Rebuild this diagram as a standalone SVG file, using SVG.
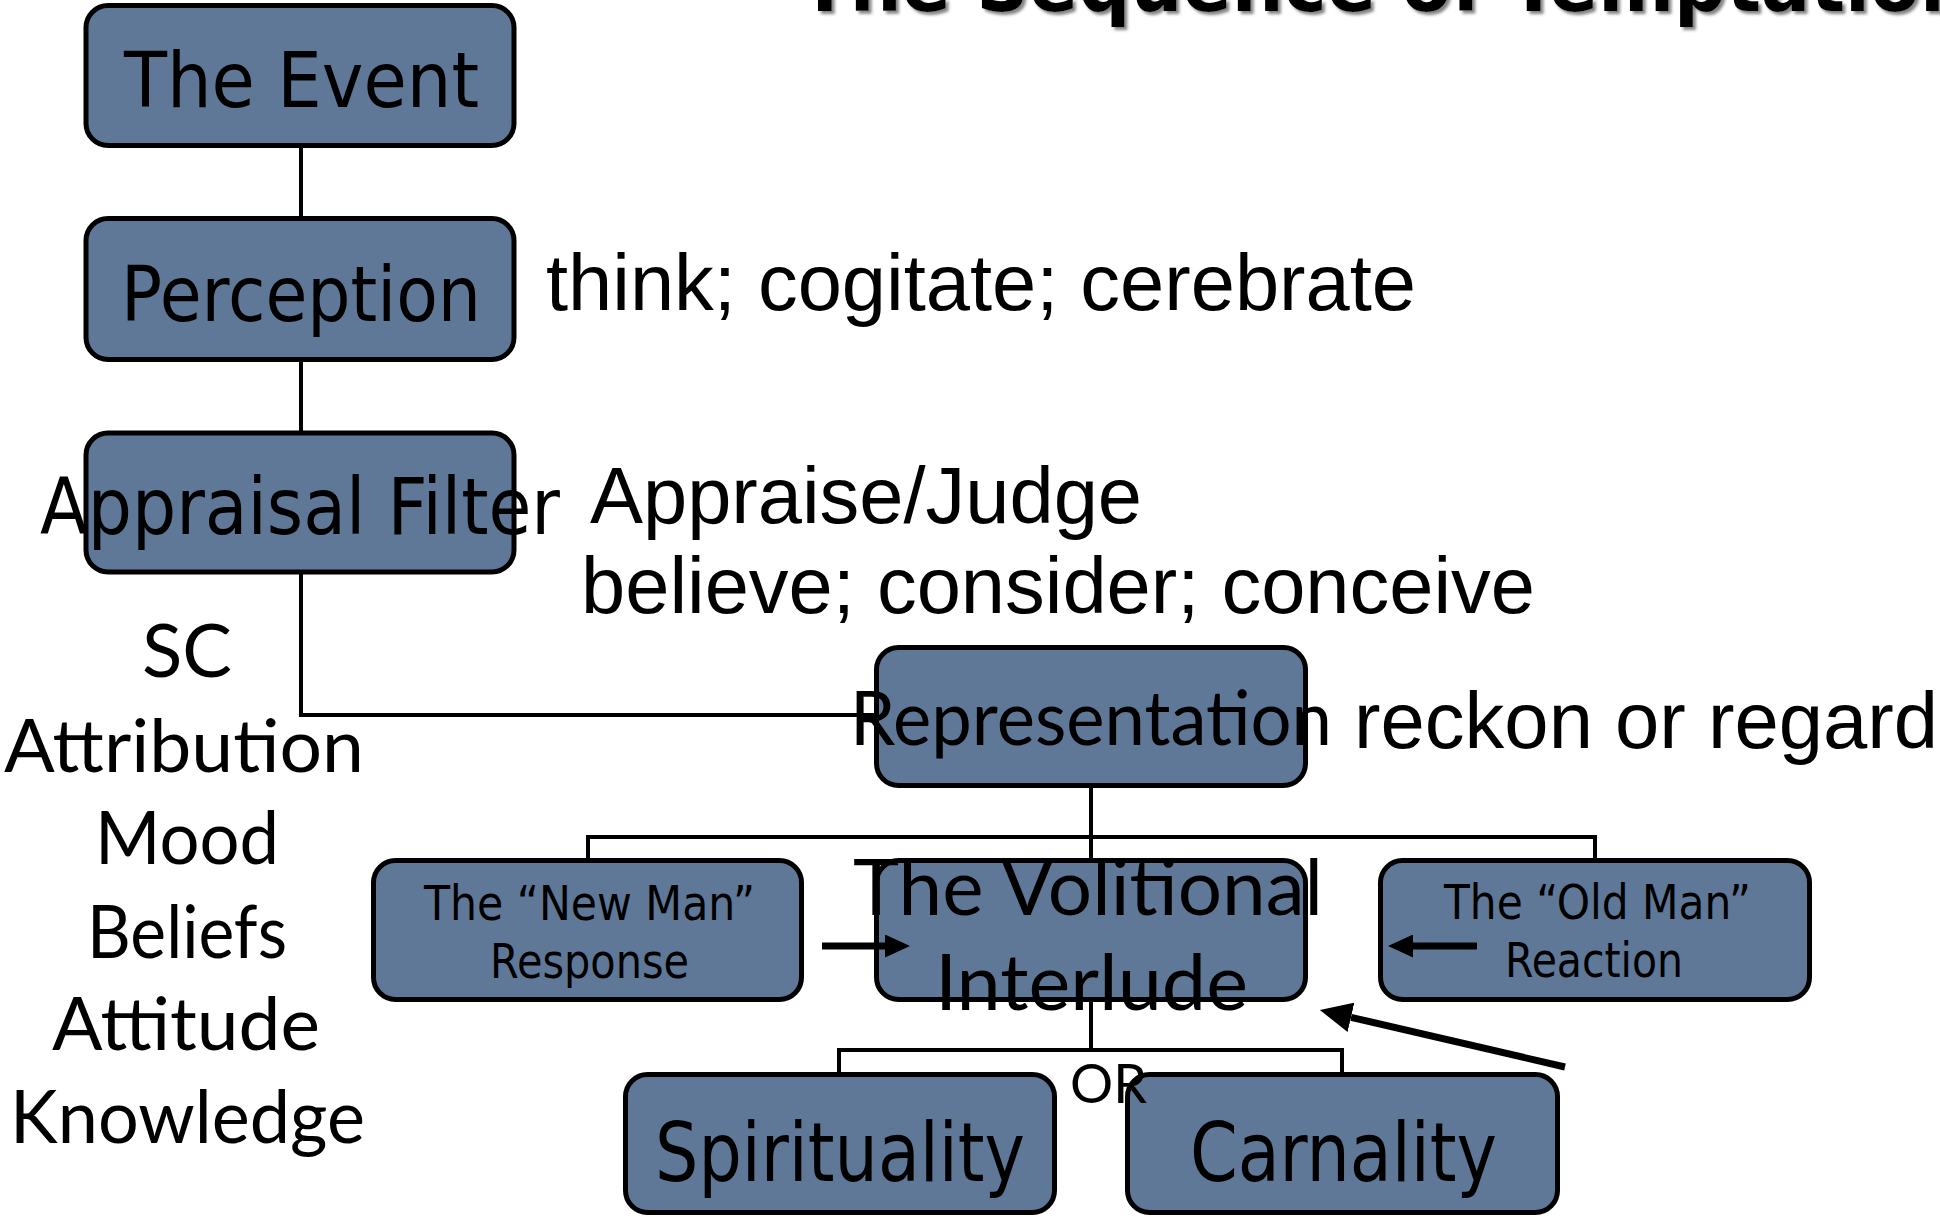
<svg xmlns="http://www.w3.org/2000/svg" width="1940" height="1217" viewBox="0 0 1940 1217">
<defs>
<style>
.box{fill:#5f7897;stroke:#000;stroke-width:5}
.tah{font-family:"DejaVu Sans","Liberation Sans",sans-serif;fill:#000}
.gill{font-family:Lato,"Open Sans","DejaVu Sans",sans-serif;fill:#000}
.ari{font-family:"Liberation Sans",Arial,sans-serif;font-size:80px;fill:#000}
.conn{fill:none;stroke:#000;stroke-width:4}
.arr{fill:none;stroke:#000;stroke-width:7}
</style>
<filter id="shadow" x="-5%" y="-50%" width="110%" height="200%">
<feDropShadow dx="3" dy="3" stdDeviation="1.5" flood-color="#777" flood-opacity="0.9"/>
</filter>
<marker id="head" viewBox="0 0 25 23" markerUnits="userSpaceOnUse" markerWidth="25" markerHeight="23" refX="0" refY="11.5" orient="auto">
<path d="M0,0 L25,11.5 L0,23 z" fill="#000"/>
</marker>
<marker id="headBig" viewBox="0 0 32 30" markerUnits="userSpaceOnUse" markerWidth="32" markerHeight="30" refX="0" refY="15" orient="auto">
<path d="M0,0 L32,15 L0,30 z" fill="#000"/>
</marker>
</defs>
<rect width="1940" height="1217" fill="#fff"/>

<g id="title">
<text x="800" y="11" font-family="'DejaVu Sans','Liberation Sans',sans-serif" font-weight="bold" font-size="78" textLength="1172" lengthAdjust="spacingAndGlyphs" filter="url(#shadow)">The Sequence of Temptation</text>
</g>

<g id="event">
<rect class="box" x="86" y="5.5" width="428" height="140" rx="22"/>
<text class="tah" x="124" y="107" font-size="76" textLength="355" lengthAdjust="spacingAndGlyphs">The Event</text>
</g>
<g id="perception">
<rect class="box" x="86" y="218.5" width="428" height="141" rx="22"/>
<text class="tah" x="121" y="321" font-size="77" textLength="360" lengthAdjust="spacingAndGlyphs">Perception</text>
</g>
<g id="appraisal">
<rect class="box" x="86" y="433" width="428" height="139" rx="22"/>
<text class="tah" x="40" y="534" font-size="78" textLength="520" lengthAdjust="spacingAndGlyphs">Appraisal Filter</text>
</g>
<g id="representation">
<rect class="box" x="876.5" y="647.5" width="429" height="138" rx="22"/>
<text class="gill" x="850" y="745" font-size="76" textLength="482" lengthAdjust="spacingAndGlyphs">Representation</text>
</g>
<g id="newman">
<rect class="box" x="373.5" y="860.5" width="428" height="139" rx="22"/>
<text class="tah" x="424" y="920" font-size="48" textLength="331" lengthAdjust="spacingAndGlyphs">The “New Man”</text>
<text class="tah" x="490" y="978" font-size="48" textLength="199" lengthAdjust="spacingAndGlyphs">Response</text>
</g>
<g id="volitional">
<rect class="box" x="876.5" y="860.5" width="429" height="139" rx="22"/>
<text class="gill" x="853" y="915" font-size="78" textLength="470" lengthAdjust="spacingAndGlyphs">The Volitional</text>
<text class="gill" x="935" y="1010" font-size="78" textLength="313" lengthAdjust="spacingAndGlyphs">Interlude</text>
</g>
<g id="oldman">
<rect class="box" x="1380.5" y="860.5" width="429" height="139" rx="22"/>
<text class="tah" x="1444" y="919" font-size="48" textLength="307" lengthAdjust="spacingAndGlyphs">The “Old Man”</text>
<text class="tah" x="1505" y="977" font-size="48" textLength="178" lengthAdjust="spacingAndGlyphs">Reaction</text>
</g>
<g id="spirituality">
<rect class="box" x="625.5" y="1074.5" width="429" height="138" rx="22"/>
<text class="tah" x="655" y="1181" font-size="82" textLength="370" lengthAdjust="spacingAndGlyphs">Spirituality</text>
</g>
<g id="carnality">
<rect class="box" x="1127.5" y="1074.5" width="430" height="138" rx="22"/>
<text class="tah" x="1190" y="1181" font-size="82" textLength="307" lengthAdjust="spacingAndGlyphs">Carnality</text>
</g>

<g id="connectors">
<path class="conn" d="M301,148 V216"/>
<path class="conn" d="M301,362 V431"/>
<path class="conn" d="M301,574 V715 H874"/>
<path class="conn" d="M1091,788 V858"/>
<path class="conn" d="M588,858 V837 H1595 V858"/>
<path class="conn" d="M1091,1002 V1050"/>
<path class="conn" d="M839,1072 V1050 H1342 V1072"/>
<path class="arr" d="M822,946 H885" marker-end="url(#head)"/>
<path class="arr" d="M1477,946 H1413" marker-end="url(#head)"/>
<path class="arr" d="M1565,1067 L1351,1017.3" marker-end="url(#headBig)"/>
</g>

<g id="labels">
<text class="gill" x="1070" y="1103" font-size="54" textLength="77" lengthAdjust="spacingAndGlyphs">OR</text>
<text class="ari" x="546" y="310" textLength="870" lengthAdjust="spacingAndGlyphs">think; cogitate; cerebrate</text>
<text class="ari" x="590" y="523" textLength="552" lengthAdjust="spacingAndGlyphs">Appraise/Judge</text>
<text class="ari" x="581" y="613" textLength="954" lengthAdjust="spacingAndGlyphs">believe; consider; conceive</text>
<text class="ari" x="1354" y="748" textLength="584" lengthAdjust="spacingAndGlyphs">reckon or regard</text>
</g>

<g id="factors" class="gill" font-size="74">
<text x="142" y="677" textLength="90" lengthAdjust="spacingAndGlyphs">SC</text>
<text x="4" y="772" textLength="360" lengthAdjust="spacingAndGlyphs">Attribution</text>
<text x="95" y="864" textLength="184" lengthAdjust="spacingAndGlyphs">Mood</text>
<text x="87" y="958" textLength="200" lengthAdjust="spacingAndGlyphs">Beliefs</text>
<text x="52" y="1050" textLength="268" lengthAdjust="spacingAndGlyphs">Attitude</text>
<text x="10" y="1143" textLength="355" lengthAdjust="spacingAndGlyphs">Knowledge</text>
</g>
</svg>
